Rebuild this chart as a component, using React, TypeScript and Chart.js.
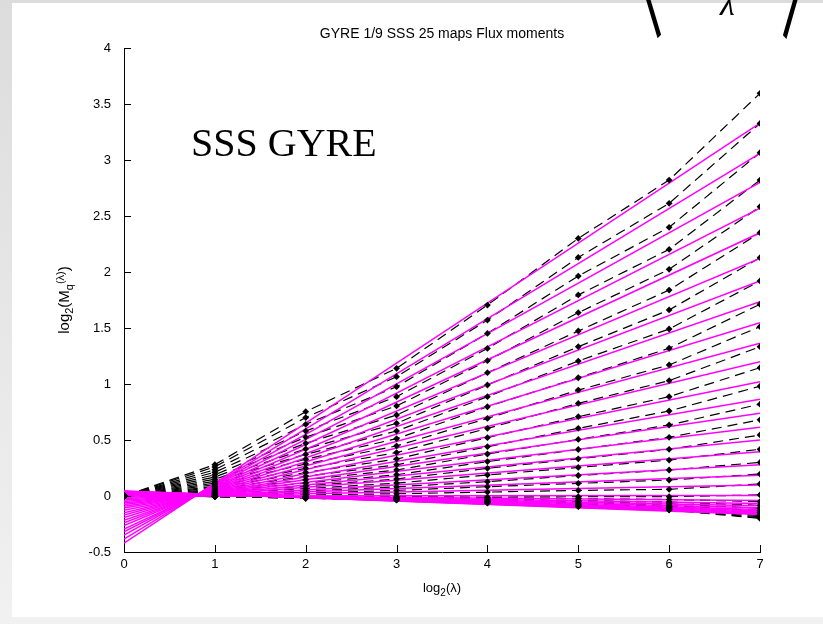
import React, { useEffect, useRef } from 'react';
import { Chart, registerables } from 'chart.js';

Chart.register(...registerables);

// log2 of the scale ratio lambda
const logLambda = [0, 1, 2, 3, 4, 5, 6, 7];

// moment orders, one curve each (top curve first)
const qOrders = [
  3.0, 2.9, 2.8, 2.7, 2.6, 2.5, 2.4, 2.3, 2.2, 2.1, 2.0,
  1.9, 1.8, 1.7, 1.6, 1.5, 1.4, 1.3, 1.2, 1.1, 1.0,
  0.9, 0.8, 0.7, 0.6, 0.5, 0.4, 0.3, 0.2, 0.1, 0.0,
];

// log2 M_q(lambda) at each logLambda, one row per moment order
const logMoments = [
  [0, 0.28, 0.753, 1.14, 1.705, 2.3, 2.821, 3.595],
  [0, 0.26, 0.7, 1.065, 1.571, 2.13, 2.613, 3.327],
  [0, 0.235, 0.64, 0.976, 1.452, 1.964, 2.399, 3.065],
  [0, 0.212, 0.58, 0.887, 1.318, 1.795, 2.202, 2.821],
  [0, 0.19, 0.525, 0.804, 1.208, 1.637, 2.024, 2.583],
  [0, 0.17, 0.47, 0.723, 1.101, 1.473, 1.839, 2.351],
  [0, 0.15, 0.42, 0.649, 0.991, 1.333, 1.661, 2.128],
  [0, 0.132, 0.372, 0.58, 0.887, 1.205, 1.491, 1.92],
  [0, 0.115, 0.328, 0.512, 0.797, 1.056, 1.319, 1.712],
  [0, 0.1, 0.286, 0.447, 0.693, 0.946, 1.17, 1.512],
  [0, 0.085, 0.247, 0.388, 0.604, 0.827, 1.03, 1.333],
  [0, 0.072, 0.21, 0.33, 0.521, 0.708, 0.887, 1.146],
  [0, 0.06, 0.176, 0.278, 0.44, 0.604, 0.759, 0.98],
  [0, 0.049, 0.145, 0.232, 0.375, 0.505, 0.634, 0.82],
  [0, 0.039, 0.116, 0.19, 0.307, 0.415, 0.524, 0.68],
  [0, 0.03, 0.09, 0.152, 0.247, 0.332, 0.417, 0.545],
  [0, 0.022, 0.066, 0.115, 0.188, 0.255, 0.321, 0.417],
  [0, 0.015, 0.045, 0.082, 0.128, 0.183, 0.232, 0.3],
  [0, 0.009, 0.026, 0.05, 0.083, 0.113, 0.143, 0.196],
  [0, 0.004, 0.01, 0.02, 0.035, 0.05, 0.06, 0.107],
  [0, 0, -0.005, -0.005, -0.01, -0.006, -0.006, 0.01],
  [0, -0.001, -0.005, -0.009, -0.016, -0.024, -0.031, -0.05],
  [0, -0.002, -0.008, -0.015, -0.026, -0.04, -0.053, -0.084],
  [0, -0.003, -0.011, -0.02, -0.035, -0.052, -0.069, -0.11],
  [0, -0.003, -0.013, -0.024, -0.042, -0.063, -0.083, -0.132],
  [0, -0.004, -0.015, -0.027, -0.047, -0.071, -0.094, -0.15],
  [0, -0.004, -0.016, -0.03, -0.052, -0.078, -0.103, -0.164],
  [0, -0.004, -0.018, -0.032, -0.055, -0.084, -0.11, -0.176],
  [0, -0.005, -0.019, -0.033, -0.059, -0.088, -0.116, -0.186],
  [0, -0.005, -0.019, -0.035, -0.061, -0.092, -0.121, -0.194],
  [0, -0.005, -0.02, -0.036, -0.063, -0.095, -0.125, -0.2],
];

// straight-line fits: value at logLambda = 0 and at logLambda = 7
const fitAtZero = [
  -0.42, -0.385, -0.35, -0.32, -0.295, -0.265, -0.24, -0.217, -0.193, -0.17, -0.15,
  -0.128, -0.108, -0.092, -0.077, -0.063, -0.05, -0.035, -0.023, -0.012, 0,
  0.01, 0.017, 0.023, 0.028, 0.032, 0.036, 0.039, 0.041, 0.043, 0.045,
];
const fitAtSeven = [
  3.33, 3.06, 2.8, 2.57, 2.35, 2.12, 1.92, 1.735, 1.547, 1.363, 1.199,
  1.02, 0.863, 0.738, 0.613, 0.5, 0.396, 0.28, 0.185, 0.098, 0.005,
  -0.04, -0.066, -0.088, -0.106, -0.12, -0.132, -0.142, -0.151, -0.158, -0.165,
];

const xTicks = [0, 1, 2, 3, 4, 5, 6, 7];
const yTicks = [-0.5, 0, 0.5, 1, 1.5, 2, 2.5, 3, 3.5, 4];

const chartTitle = 'GYRE 1/9 SSS 25 maps Flux moments';
const panelLabel = 'SSS GYRE';

const WIDTH = 823;
const HEIGHT = 624;
const SANS = '"Liberation Sans", Arial, Helvetica, sans-serif';
const SERIF = '"Liberation Serif", "Times New Roman", serif';
const BRACKET_FONT = '"Noto Sans CJK SC", "DejaVu Sans", sans-serif';

type Part = { t: string; size: number; dy: number };

function drawParts(ctx: CanvasRenderingContext2D, parts: Part[], x: number, y: number) {
  let total = 0;
  for (const p of parts) {
    ctx.font = `${p.size}px ${SANS}`;
    total += ctx.measureText(p.t).width;
  }
  let cx = x - total / 2;
  ctx.textAlign = 'left';
  ctx.textBaseline = 'alphabetic';
  for (const p of parts) {
    ctx.font = `${p.size}px ${SANS}`;
    ctx.fillText(p.t, cx, y + p.dy);
    cx += ctx.measureText(p.t).width;
  }
}

// vertically stretched bracket whose lower tip sits at (tipX, tipY);
// slope is the horizontal run per vertical pixel of its lower stroke
function drawTallBracket(
  ctx: CanvasRenderingContext2D,
  ch: string,
  tipX: number,
  tipY: number,
  size: number,
  slope: number,
  tipOnRight: boolean,
) {
  ctx.save();
  ctx.font = `${size}px ${BRACKET_FONT}`;
  ctx.textAlign = 'left';
  ctx.textBaseline = 'alphabetic';
  const m = ctx.measureText(ch);
  const w = m.actualBoundingBoxRight + m.actualBoundingBoxLeft;
  const h = m.actualBoundingBoxAscent + m.actualBoundingBoxDescent;
  const sy = (2 * w) / (h * slope);
  const x0 = tipOnRight ? tipX - m.actualBoundingBoxRight : tipX + m.actualBoundingBoxLeft;
  const y0 = tipY - m.actualBoundingBoxDescent * sy;
  ctx.translate(x0, y0);
  ctx.scale(1, sy);
  ctx.fillStyle = '#000';
  ctx.fillText(ch, 0, 0);
  ctx.restore();
}

const backdrop = {
  id: 'backdrop',
  beforeDraw(chart: any) {
    const { ctx } = chart;
    ctx.save();
    const g = ctx.createLinearGradient(0, 0, 0, HEIGHT);
    g.addColorStop(0, '#dcdcdc');
    g.addColorStop(1, '#f1f1f1');
    ctx.fillStyle = g;
    ctx.fillRect(0, 0, WIDTH, HEIGHT);
    ctx.fillStyle = '#ffffff';
    ctx.fillRect(12, 3, WIDTH - 12, 614);
    ctx.restore();
  },
};

const decorations = {
  id: 'decorations',
  afterDraw(chart: any) {
    const { ctx, chartArea } = chart;
    const xs = chart.scales.x;
    const ys = chart.scales.y;
    ctx.save();
    ctx.fillStyle = '#000';
    ctx.strokeStyle = '#000';
    ctx.lineWidth = 1;

    // inward tick marks
    ctx.beginPath();
    for (const t of xTicks) {
      const px = Math.round(xs.getPixelForValue(t)) + 0.5;
      ctx.moveTo(px, chartArea.bottom);
      ctx.lineTo(px, chartArea.bottom - 7);
    }
    for (const t of yTicks) {
      const py = Math.round(ys.getPixelForValue(t)) + 0.5;
      ctx.moveTo(chartArea.left, py);
      ctx.lineTo(chartArea.left + 7, py);
    }
    ctx.stroke();

    const midX = (chartArea.left + chartArea.right) / 2;

    // title
    ctx.font = `14px ${SANS}`;
    ctx.textAlign = 'center';
    ctx.textBaseline = 'alphabetic';
    ctx.fillText(chartTitle, midX, 38);

    // x-axis label: log2(λ)
    drawParts(ctx, [
      { t: 'log', size: 13, dy: 0 },
      { t: '2', size: 10, dy: 4 },
      { t: '(λ)', size: 13, dy: 0 },
    ], midX, 592);

    // y-axis label: log2(Mq(λ))
    ctx.save();
    ctx.translate(69, 300);
    ctx.rotate(-Math.PI / 2);
    drawParts(ctx, [
      { t: 'log', size: 15, dy: 0 },
      { t: '2', size: 11, dy: 4 },
      { t: '(M', size: 15, dy: 0 },
      { t: 'q', size: 11, dy: 4 },
      { t: '(λ)', size: 11, dy: -5 },
      { t: ')', size: 15, dy: 0 },
    ], 0, 0);
    ctx.restore();

    // panel label
    ctx.font = `40px ${SERIF}`;
    ctx.textAlign = 'left';
    ctx.fillText(panelLabel, 191, 156);

    // lower part of the bracketed formula above the frame
    drawTallBracket(ctx, '〈', 662, 39, 56, 0.39, true);
    drawTallBracket(ctx, '〉', 782, 39, 56, 0.37, false);
    ctx.font = `italic 34px ${SERIF}`;
    ctx.textAlign = 'left';
    ctx.fillText('λ', 720, 15);

    ctx.restore();
  },
};

export default function App() {
  const canvasRef = useRef<HTMLCanvasElement | null>(null);

  useEffect(() => {
    const canvas = canvasRef.current;
    if (!canvas) return;

    const dashed: any[] = [];
    const fits: any[] = [];
    const marks: any[] = [];
    logMoments.forEach((row, i) => {
      const pts = row.map((y, k) => ({ x: logLambda[k], y }));
      dashed.push({
        label: `q=${qOrders[i]}`,
        data: pts,
        borderColor: '#000000',
        borderWidth: 1.2,
        borderDash: [10, 6],
        pointRadius: 0,
        fill: false,
        tension: 0,
        order: 2,
      });
      fits.push({
        label: `fit q=${qOrders[i]}`,
        data: [
          { x: logLambda[0], y: fitAtZero[i] },
          { x: logLambda[logLambda.length - 1], y: fitAtSeven[i] },
        ],
        borderColor: '#ff00ff',
        borderWidth: 1.5,
        pointRadius: 0,
        fill: false,
        tension: 0,
        order: 1,
      });
      marks.push({
        label: `pts q=${qOrders[i]}`,
        data: pts,
        showLine: false,
        pointStyle: 'rectRot',
        pointRadius: 3.4,
        pointBackgroundColor: '#000000',
        pointBorderColor: '#000000',
        pointBorderWidth: 0,
        order: 0,
      });
    });

    const chart = new Chart(canvas, {
      type: 'line',
      data: { datasets: [...dashed, ...fits, ...marks] },
      options: {
        animation: false,
        responsive: false,
        devicePixelRatio: 1,
        parsing: false,
        normalized: true,
        layout: { padding: { left: 0, right: 63, top: 48, bottom: 0 } },
        plugins: {
          legend: { display: false },
          tooltip: { enabled: false },
          title: { display: false },
        },
        scales: {
          x: {
            type: 'linear',
            min: 0,
            max: 7,
            afterBuildTicks: (s: any) => { s.ticks = xTicks.map((v) => ({ value: v })); },
            afterFit: (s: any) => { s.height = 72; },
            ticks: {
              color: '#000',
              padding: 5,
              font: { family: SANS, size: 13 },
              maxRotation: 0,
              callback: (v: any) => String(v),
            },
            grid: { display: false, drawTicks: false },
            border: { display: true, color: '#000', width: 1 },
          },
          y: {
            type: 'linear',
            min: -0.5,
            max: 4,
            afterBuildTicks: (s: any) => { s.ticks = yTicks.map((v) => ({ value: v })); },
            afterFit: (s: any) => { s.width = 124; },
            ticks: {
              color: '#000',
              padding: 13,
              font: { family: SANS, size: 13 },
              callback: (v: any) => String(v),
            },
            grid: { display: false, drawTicks: false },
            border: { display: true, color: '#000', width: 1 },
          },
        },
      },
      plugins: [backdrop, decorations],
    });

    return () => chart.destroy();
  }, []);

  return (
    <div style={{ position: 'fixed', left: 0, top: 0, width: WIDTH, height: HEIGHT }}>
      <canvas ref={canvasRef} width={WIDTH} height={HEIGHT} />
    </div>
  );
}
